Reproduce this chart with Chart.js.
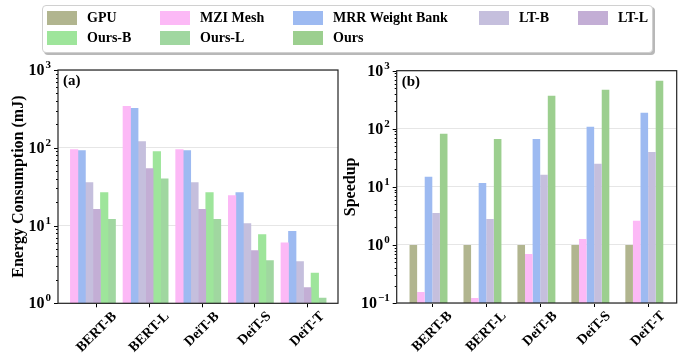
<!DOCTYPE html>
<html>
<head>
<meta charset="utf-8">
<script src="https://cdn.jsdelivr.net/npm/chart.js@4.4.0/dist/chart.umd.min.js"></script>
<style>
  body { margin: 0; width: 686px; height: 356px; position: relative; background: #fff; overflow: hidden; font-family: "Liberation Serif", serif; }
  canvas { position: absolute; left: 0; top: 0; }
  #legend-box { position: absolute; left: 42px; top: 5px; width: 609px; height: 46px; border: 1px solid #d0d0d0; border-radius: 4px; box-shadow: 2px 2px 0 #b8b8b8; background: #fff; }
  .item { position: absolute; height: 16px; display: flex; align-items: center; font-weight: bold; font-size: 14px; color: #000; white-space: nowrap; }
  .patch { width: 30px; height: 14px; margin-right: 10px; }
</style>
</head>
<body>
<canvas id="chartA" width="686" height="356"></canvas>
<canvas id="chartB" width="686" height="356"></canvas>
<div id="legend-box"></div>
<script>
// categories
const models = ['BERT-B', 'BERT-L', 'DeiT-B', 'DeiT-S', 'DeiT-T'];

// (a) energy consumption (mJ)
const energyMZI = [95, 340, 95, 24.3, 6.0];
const energyMRR = [92, 321, 92, 26.6, 8.4];
const energyLTB = [35.7, 120, 35.7, 10.6, 3.44];
const energyLTL = [16.1, 54, 16.1, 4.76, 1.59];
const energyOursB = [26.6, 89.6, 26.6, 7.65, 2.45];
const energyOursL = [12.0, 40, 12.0, 3.54, 1.17];

// (b) speedup over GPU
const speedGPU = [1, 1, 1, 1, 1];
const speedMZI = [0.155, 0.122, 0.70, 1.27, 2.6];
const speedMRR = [14.9, 11.7, 67, 108, 189];
const speedLTB = [3.56, 2.8, 16.1, 25, 40];
const speedOurs = [82, 67, 371, 470, 673];

// tick labels (powers of ten)
const energyTicks = [1, 10, 100, 1000];
const speedTicks = [0.1, 1, 10, 100, 1000];

const colors = {
  gpu: '#b1b58f',
  mzi: '#fcb9f6',
  mrr: '#9dbaf1',
  ltb: '#c5bfdd',
  ltl: '#c3aed5',
  oursB: '#9ee59b',
  oursL: '#a0d7a0',
  ours: '#9ccf8f'
};

const FONT = '"Liberation Serif", "Times New Roman", serif';

// LEGEND (shared, html)
const legendItems = [
  ['GPU', colors.gpu], ['MZI Mesh', colors.mzi], ['MRR Weight Bank', colors.mrr], ['LT-B', colors.ltb], ['LT-L', colors.ltl],
  ['Ours-B', colors.oursB], ['Ours-L', colors.oursL], ['Ours', colors.ours]
];
const legendCols = [47, 160, 293, 479, 578];
const legendRows = [17.5, 38];
legendItems.forEach(([label, color], i) => {
  const el = document.createElement('div');
  el.className = 'item';
  el.style.left = legendCols[i % 5] + 'px';
  el.style.top = (legendRows[Math.floor(i / 5)] - 8) + 'px';
  el.innerHTML = `<div class="patch" style="background:${color}"></div><span>${label}</span>`;
  document.body.appendChild(el);
});

function isPow10(v) {
  const l = Math.log10(v);
  return Math.abs(l - Math.round(l)) < 1e-9;
}

// draws frame, log ticks, 10^n labels, rotated category labels and the panel tag
const decoPlugin = {
  id: 'deco',
  afterDraw(chart, args, opts) {
    const { ctx, chartArea: a, scales: { x, y } } = chart;
    ctx.save();
    ctx.strokeStyle = '#000';
    ctx.lineWidth = 1;
    // minor + major ticks on the left spine
    const lo = Math.round(Math.log10(y.min)), hi = Math.round(Math.log10(y.max));
    for (let d = lo; d <= hi; d++) {
      for (let k = 1; k <= 9; k++) {
        const v = k * Math.pow(10, d);
        if (v > y.max * 1.0001) break;
        const py = Math.round(y.getPixelForValue(v)) + 0.5;
        const len = k === 1 ? 4 : 2;
        ctx.beginPath();
        ctx.moveTo(a.left - len, py);
        ctx.lineTo(a.left, py);
        ctx.stroke();
      }
    }
    // y tick labels
    ctx.fillStyle = '#000';
    opts.labels.forEach(v => {
      const e = Math.round(Math.log10(v));
      const exp = e < 0 ? '\u2212' + (-e) : String(e);
      const py = y.getPixelForValue(v);
      const xr = a.left - 7;
      ctx.font = 'bold 11px ' + FONT;
      const we = ctx.measureText(exp).width;
      ctx.textAlign = 'left';
      ctx.textBaseline = 'alphabetic';
      ctx.fillText(exp, xr - we, py - 2);
      ctx.font = 'bold 16px ' + FONT;
      ctx.textAlign = 'right';
      ctx.textBaseline = 'middle';
      ctx.fillText('10', xr - we - 1, py + 1);
    });
    // x labels, rotated 45 deg and centred on the tick
    ctx.font = 'bold 14px ' + FONT;
    ctx.textAlign = 'center';
    ctx.textBaseline = 'middle';
    models.forEach((m, i) => {
      const px = x.getPixelForValue(i);
      const w = ctx.measureText(m).width;
      const boxH = (w + 14) * Math.SQRT1_2;
      ctx.save();
      ctx.translate(px, a.bottom + 6 + boxH / 2);
      ctx.rotate(-Math.PI / 4);
      ctx.fillText(m, 0, 0);
      ctx.restore();
    });
    // frame
    ctx.strokeStyle = '#222';
    ctx.lineWidth = 1.2;
    ctx.strokeRect(a.left, a.top, a.right - a.left, a.bottom - a.top);
    // panel tag
    ctx.font = 'bold 15px ' + FONT;
    ctx.textAlign = 'left';
    ctx.textBaseline = 'middle';
    ctx.fillText(opts.tag, a.left + 5, a.top + 11);
    ctx.restore();
  }
};

function makeChart(id, cfg) {
  return new Chart(document.getElementById(id), {
    type: 'bar',
    data: {
      datasets: cfg.series.map(s => ({
        label: s.label,
        backgroundColor: s.color,
        borderWidth: 0,
        barPercentage: 1,
        categoryPercentage: cfg.catPct,
        data: models.map((m, i) => ({ x: i, y: s.values ? s.values[i] : null }))
      }))
    },
    options: {
      responsive: false,
      animation: false,
      layout: { padding: cfg.padding },
      plugins: {
        legend: { display: false },
        tooltip: { enabled: false },
        deco: { labels: cfg.ticks, tag: cfg.tag }
      },
      scales: {
        x: {
          type: 'linear',
          min: cfg.xMin,
          max: cfg.xMax,
          offset: false,
          afterBuildTicks: s => { s.ticks = models.map((m, i) => ({ value: i })); },
          afterFit: s => { s.height = cfg.xHeight; },
          ticks: { display: false, includeBounds: false, autoSkip: false },
          grid: { display: true, drawOnChartArea: false, drawTicks: true, tickLength: 4, color: '#000', offset: false },
          border: { display: false }
        },
        y: {
          type: 'logarithmic',
          min: cfg.ticks[0],
          max: cfg.ticks[cfg.ticks.length - 1],
          afterFit: s => { s.width = cfg.yWidth; },
          ticks: { display: false },
          grid: {
            drawTicks: false,
            lineWidth: 1,
            color: c => (c.tick && isPow10(c.tick.value)) ? '#e6e6e6' : 'rgba(0,0,0,0)'
          },
          border: { display: false },
          title: {
            display: true,
            text: cfg.yTitle,
            color: '#000',
            padding: { top: cfg.titlePad, bottom: 0 },
            font: { family: FONT, size: 16, weight: 'bold' }
          }
        }
      }
    },
    plugins: [decoPlugin]
  });
}

// (a) Energy consumption
makeChart('chartA', {
  tag: '(a)',
  yTitle: 'Energy Consumption (mJ)',
  ticks: energyTicks,
  catPct: 1.0,
  xMin: -0.735, xMax: 4.583,
  padding: { left: 0, right: 348, top: 70, bottom: 0 },
  yWidth: 58, xHeight: 52.7, titlePad: 9.4,
  series: [
    { label: 'MZI Mesh', color: colors.mzi, values: energyMZI },
    { label: 'MRR Weight Bank', color: colors.mrr, values: energyMRR },
    { label: 'LT-B', color: colors.ltb, values: energyLTB },
    { label: 'LT-L', color: colors.ltl, values: energyLTL },
    { label: 'Ours-B', color: colors.oursB, values: energyOursB },
    { label: 'Ours-L', color: colors.oursL, values: energyOursL },
    { label: '', color: colors.ours, values: null }
  ]
});

// (b) Speedup
makeChart('chartB', {
  tag: '(b)',
  yTitle: 'Speedup',
  ticks: speedTicks,
  catPct: 0.844,
  xMin: -0.66, xMax: 4.53,
  padding: { left: 336, right: 9.3, top: 70.7, bottom: 0 },
  yWidth: 60.7, xHeight: 53, titlePad: 5.4,
  series: [
    { label: 'GPU', color: colors.gpu, values: speedGPU },
    { label: 'MZI Mesh', color: colors.mzi, values: speedMZI },
    { label: 'MRR Weight Bank', color: colors.mrr, values: speedMRR },
    { label: 'LT-B', color: colors.ltb, values: speedLTB },
    { label: 'Ours', color: colors.ours, values: speedOurs },
    { label: '', color: colors.ltl, values: null }
  ]
});
</script>
</body>
</html>
